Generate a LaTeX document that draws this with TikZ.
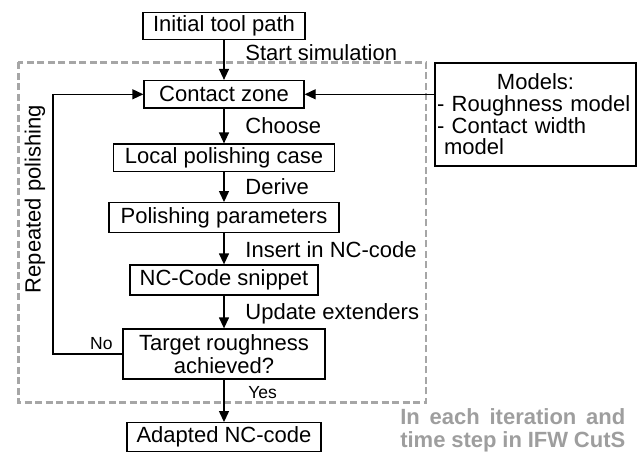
\documentclass[tikz,border=0pt]{standalone}
\usepackage{fontspec}
\setmainfont{Liberation Sans}
\usetikzlibrary{arrows.meta}
\definecolor{dashgray}{HTML}{A6A6A6}
\definecolor{textgray}{HTML}{9E9E9E}
\begin{document}
\begin{tikzpicture}[x=0.5pt,y=-0.5pt,
  box/.style={draw, line width=0.65pt, inner sep=0pt, font=\fontsize{11}{11}\selectfont, align=center},
  lbl/.style={anchor=base west, inner sep=0pt, font=\fontsize{11}{11}\selectfont},
  small/.style={inner sep=0pt, font=\fontsize{8.75}{9}\selectfont},
  arr/.style={line width=0.65pt, -{Triangle[length=5.5pt,width=5pt]}},
  frame/.style={draw=dashgray, line width=1.25pt, dash pattern=on 3.5pt off 1.75pt}]
\useasboundingbox (0,0) rectangle (642,455);
\draw[frame] (18.3,62.3) rectangle (426,402.5);
\node[box, minimum width=81pt, minimum height=13.25pt] (init) at (224,25.9) {Initial tool path};
\node[box, minimum width=80pt, minimum height=13.75pt] (contact) at (224,94.3) {Contact zone};
\node[box, minimum width=110.5pt, minimum height=13.85pt] (local) at (224,157.9) {Local polishing case};
\node[box, minimum width=115pt, minimum height=15pt] (params) at (224,217.7) {Polishing parameters};
\node[box, minimum width=94pt, minimum height=15pt] (snippet) at (224,280) {NC-Code snippet};
\node[box, minimum width=101pt, minimum height=25pt, font=\fontsize{11}{10.2}\selectfont] (target) at (224,354) {Target roughness\\achieved?};
\node[box, minimum width=97pt, minimum height=14.5pt] (adapted) at (224,437.2) {Adapted NC-code};
\node[box, minimum width=100.5pt, minimum height=51.5pt, text width=98.5pt, align=left, font=\fontsize{11}{10.85}\selectfont] (models) at (535.5,114.5) {\hbox to 98.5pt{\hfil Models:\hfil}\\- Roughness model\\- Contact width\\\hspace*{3.5pt}model};
\coordinate (lc) at (53,354);
\draw[arr] (init.south) -- (contact.north);
\draw[arr] (contact.south) -- (local.north);
\draw[arr] (local.south) -- (params.north);
\draw[arr] (params.south) -- (snippet.north);
\draw[arr] (snippet.south) -- (target.north);
\draw[arr] (target.south) -- (adapted.north);
\draw[arr] (target.west) -- (lc) |- (contact.west);
\draw[arr] (models.west |- contact.east) -- (contact.east);
\node[lbl] (l1) at (245,60) {Start simulation};
\node[lbl] (l2) at (245,133) {Choose};
\node[lbl] (l3) at (245,194.7) {Derive};
\node[lbl] (l4) at (245,257.3) {Insert in NC-code};
\node[lbl] (l5) at (245,319.7) {Update extenders};
\node[small, anchor=base west] (yes) at (248,398) {Yes};
\node[small, anchor=base east] (no) at (113,349) {No};
\node[rotate=90, inner sep=0pt, font=\fontsize{11}{11}\selectfont] (rep) at (35,199) {Repeated polishing};
\node[inner sep=0pt, text width=112.5pt, align=left, text=textgray, font=\bfseries\fontsize{11}{11.35}\selectfont] (note) at (512.8,430.4) {\hbox to 112.5pt{In\hfill each\hfill iteration\hfill and}\\\hbox to 112.5pt{time\hfill step\hfill in\hfill IFW\hfill CutS}};
\end{tikzpicture}
\end{document}
